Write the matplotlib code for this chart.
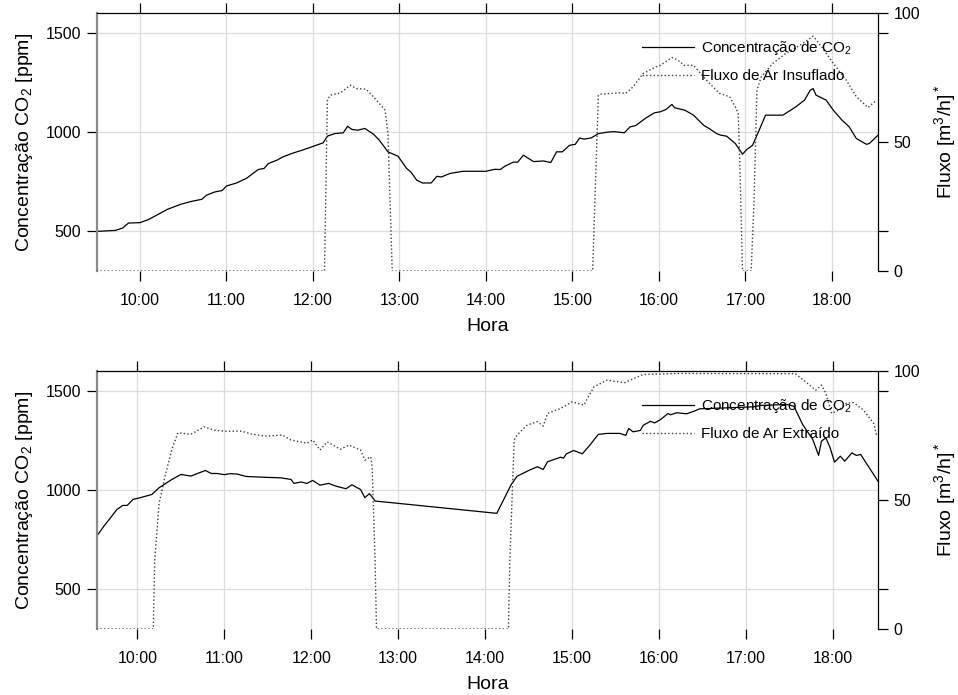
import matplotlib
matplotlib.use("Agg")
import matplotlib.pyplot as plt
import matplotlib.dates as mdates
import pandas as pd

plt.rcParams['font.family'] = ['Liberation Sans', 'DejaVu Sans']
plt.rcParams['mathtext.fontset'] = 'custom'
plt.rcParams['mathtext.rm'] = 'Liberation Sans'
plt.rcParams['mathtext.it'] = 'Liberation Sans:italic'

# ---- Ensaio 1: ar insuflado ----
ins_co2_time = [
    "09:30", "09:43", "09:48", "09:52", "10:00", "10:06", "10:19", "10:28", "10:35", "10:43",
    "10:46", "10:52", "10:57", "11:00", "11:07", "11:14", "11:22", "11:26", "11:29", "11:35",
    "11:39", "11:45", "11:51", "11:58", "12:04", "12:07", "12:10", "12:15", "12:21", "12:24",
    "12:27", "12:31", "12:36", "12:42", "12:46", "12:52", "12:59", "13:05", "13:08", "13:12",
    "13:16", "13:22", "13:26", "13:29", "13:35", "13:44", "14:00", "14:06", "14:10", "14:13",
    "14:19", "14:22", "14:26", "14:33", "14:40", "14:45", "14:49", "14:53", "14:58", "15:02",
    "15:05", "15:08", "15:13", "15:18", "15:24", "15:29", "15:36", "15:40", "15:44", "15:51",
    "15:57", "16:01", "16:05", "16:09", "16:11", "16:18", "16:24", "16:31", "16:35", "16:40",
    "16:43", "16:47", "16:53", "16:58", "17:01", "17:05", "17:10", "17:14", "17:26", "17:35",
    "17:41", "17:45", "17:47", "17:49", "17:56", "18:01", "18:07", "18:12", "18:17", "18:24",
    "18:26", "18:32",
]
ins_co2_ppm = [
    500, 505, 517, 542, 544, 560, 611, 636, 650, 662,
    682, 699, 706, 729, 744, 768, 812, 817, 842, 859,
    875, 892, 906, 923, 939, 946, 980, 993, 997, 1030,
    1014, 1010, 1019, 990, 960, 901, 879, 817, 799, 758,
    744, 744, 778, 774, 792, 803, 803, 813, 812, 828,
    849, 849, 884, 852, 855, 847, 901, 901, 934, 939,
    971, 965, 971, 993, 1000, 1003, 997, 1027, 1034, 1072,
    1098, 1103, 1115, 1140, 1123, 1111, 1086, 1035, 1018, 993,
    985, 980, 943, 889, 913, 934, 1018, 1086, 1086, 1128,
    1162, 1212, 1220, 1187, 1162, 1111, 1061, 1027, 968, 939,
    943, 985,
]
ins_flow_time = [
    "09:30", "12:08", "12:10", "12:12", "12:19", "12:26", "12:30", "12:37", "12:44", "12:50",
    "12:52", "12:55", "15:14", "15:18", "15:19", "15:33", "15:37", "15:42", "15:49", "15:58",
    "16:01", "16:09", "16:11", "16:15", "16:17", "16:24", "16:33", "16:42", "16:49", "16:53",
    "16:55", "16:56", "16:58", "17:04", "17:06", "17:08", "17:11", "17:19", "17:28", "17:38",
    "17:47", "17:53", "18:01", "18:10", "18:17", "18:25", "18:31",
]
ins_flow_m3h = [
    0, 0, 66.3, 68.2, 69.1, 72.1, 70.8, 70.5, 66.3, 62.4,
    53.5, 0, 0, 68.2, 68.6, 69.1, 68.9, 71.4, 76.6, 79.2,
    79.8, 82.8, 82.4, 81.1, 79.8, 79.8, 74.0, 68.9, 67.6, 63.7,
    61.1, 44.3, 0, 0, 27.5, 70.2, 75.3, 80.5, 84.4, 87.6,
    91.1, 86.9, 80.5, 74.0, 67.6, 63.4, 66.3,
]

# ---- Ensaio 2: ar extraído ----
ext_co2_time = [
    "09:32", "09:37", "09:46", "09:50", "09:53", "09:57", "10:02", "10:10", "10:15", "10:23",
    "10:30", "10:37", "10:44", "10:47", "10:51", "10:55", "11:00", "11:04", "11:09", "11:15",
    "11:27", "11:39", "11:46", "11:48", "11:53", "11:57", "12:01", "12:06", "12:12", "12:17",
    "12:24", "12:28", "12:34", "12:37", "12:40", "12:42", "12:44", "12:55", "14:08", "14:18",
    "14:22", "14:27", "14:30", "14:36", "14:40", "14:43", "14:52", "14:54", "14:56", "15:01",
    "15:07", "15:12", "15:18", "15:24", "15:33", "15:37", "15:39", "15:42", "15:47", "15:49",
    "15:54", "15:57", "16:01", "16:06", "16:08", "16:12", "16:19", "16:24", "16:28", "16:47",
    "17:05", "17:10", "17:28", "17:33", "17:39", "17:46", "17:50", "17:52", "17:55", "17:58",
    "18:01", "18:05", "18:08", "18:13", "18:16", "18:19", "18:31",
]
ext_co2_ppm = [
    768, 819, 903, 923, 923, 953, 962, 978, 1012, 1050,
    1079, 1071, 1091, 1099, 1084, 1084, 1078, 1083, 1081, 1069,
    1065, 1062, 1054, 1034, 1041, 1034, 1049, 1025, 1034, 1020,
    1007, 1027, 1003, 962, 982, 966, 945, 937, 883, 1029,
    1070, 1088, 1099, 1118, 1104, 1143, 1166, 1161, 1183, 1200,
    1183, 1225, 1281, 1286, 1286, 1276, 1311, 1294, 1301, 1327,
    1347, 1339, 1356, 1386, 1380, 1390, 1385, 1398, 1410, 1415,
    1420, 1427, 1432, 1423, 1331, 1255, 1175, 1247, 1264, 1213,
    1141, 1171, 1146, 1188, 1175, 1180, 1045,
]
ext_flow_time = [
    "09:32", "10:11", "10:12", "10:15", "10:19", "10:24", "10:28", "10:37", "10:46", "10:53",
    "11:00", "11:12", "11:19", "11:28", "11:40", "11:46", "11:57", "12:01", "12:06", "12:11",
    "12:20", "12:26", "12:34", "12:37", "12:41", "12:42", "12:44", "12:45", "14:16", "14:17",
    "14:20", "14:22", "14:29", "14:36", "14:40", "14:43", "14:52", "15:00", "15:08", "15:15",
    "15:24", "15:36", "15:49", "16:14", "17:34", "17:41", "17:48", "17:52", "17:55", "17:59",
    "18:04", "18:09", "18:14", "18:21", "18:28", "18:30",
]
ext_flow_m3h = [
    0, 0, 26.7, 48.7, 59.0, 70.0, 76.1, 75.5, 78.4, 77.1,
    76.7, 76.7, 75.6, 74.8, 75.2, 73.3, 72.0, 73.3, 69.4, 72.6,
    69.7, 71.3, 69.4, 65.5, 66.8, 62.9, 26.7, 0, 0, 26.7,
    73.3, 75.2, 79.1, 80.4, 78.7, 83.6, 85.5, 88.1, 86.8, 93.9,
    96.5, 95.5, 98.7, 99.1, 99.0, 95.9, 92.6, 94.6, 91.4, 83.6,
    84.9, 87.5, 87.8, 84.9, 79.7, 75.2,
]

co2_limits = (300, 1600)
co2_ticks = [500, 1000, 1500]
flow_limits = (0, 100)
flow_ticks = [0, 50, 100]


def to_dt(times):
    return pd.to_datetime(["2020-01-01 " + t for t in times])


def draw_panel(ax, co2_t, co2_v, flow_t, flow_v, flow_label):
    t_co2 = to_dt(co2_t)
    t_flow = to_dt(flow_t)
    ax.plot(t_co2, co2_v, color="black", lw=0.9, label="Concentração de CO$_2$")
    ax.set_ylim(*co2_limits)
    ax.set_yticks(co2_ticks)
    ax.set_xlim(min(t_co2.min(), t_flow.min()), max(t_co2.max(), t_flow.max()))
    ax.xaxis.set_major_locator(mdates.HourLocator())
    ax.xaxis.set_major_formatter(mdates.DateFormatter("%H:%M"))
    ax.grid(True, color="#dcdcdc", lw=0.9)
    ax.set_axisbelow(True)
    ax.tick_params(axis="x", which="major", top=True, direction="out",
                   length=7, width=0.9, labelsize=11.5, pad=9)
    ax.tick_params(axis="y", direction="out", length=7, width=0.9,
                   labelsize=11.5, pad=4)
    ax.set_xlabel("Hora", fontsize=14, labelpad=7)
    ax.set_ylabel("Concentração CO$_2$ [ppm]", fontsize=14, labelpad=8)
    ax.spines["bottom"].set_visible(False)
    ax.spines["right"].set_visible(False)
    ax.spines["left"].set_color("#8a8a8a")
    ax.spines["left"].set_linewidth(1.6)
    ax.spines["top"].set_linewidth(0.9)

    ax2 = ax.twinx()
    ax2.plot(t_flow, flow_v, color="#3c3c3c", lw=1.0, ls=":", label=flow_label)
    ax2.set_ylim(*flow_limits)
    ax2.set_yticks(flow_ticks)
    # left-axis tick positions repeated on the right spine
    lo, hi = co2_limits
    ax2.set_yticks([(v - lo) / (hi - lo) * 100 for v in co2_ticks if v != 1000],
                   minor=True)
    ax2.tick_params(axis="y", which="both", direction="out", length=7, width=0.9,
                    labelsize=11.5, pad=4)
    ax2.set_ylabel("Fluxo [m$^3$/h]$^*$", fontsize=14, labelpad=9)
    for side in ("left", "bottom", "top"):
        ax2.spines[side].set_visible(False)
    ax2.spines["right"].set_linewidth(0.9)

    h1, l1 = ax.get_legend_handles_labels()
    h2, l2 = ax2.get_legend_handles_labels()
    ax2.legend(h1 + h2, l1 + l2, loc="upper right", bbox_to_anchor=(0.966, 0.90),
               frameon=False, fontsize=11, handlelength=3.4, handletextpad=0.45,
               labelspacing=0.8, borderaxespad=0.0, borderpad=0.0)
    return ax2


fig = plt.figure(figsize=(9.58, 6.95), dpi=100)
ax_top = fig.add_axes([0.101, 0.610, 0.8155, 0.371])
ax_bot = fig.add_axes([0.101, 0.095, 0.8155, 0.371])

draw_panel(ax_top, ins_co2_time, ins_co2_ppm, ins_flow_time, ins_flow_m3h,
           "Fluxo de Ar Insuflado")
draw_panel(ax_bot, ext_co2_time, ext_co2_ppm, ext_flow_time, ext_flow_m3h,
           "Fluxo de Ar Extraído")

fig.savefig("out.png", dpi=100)
